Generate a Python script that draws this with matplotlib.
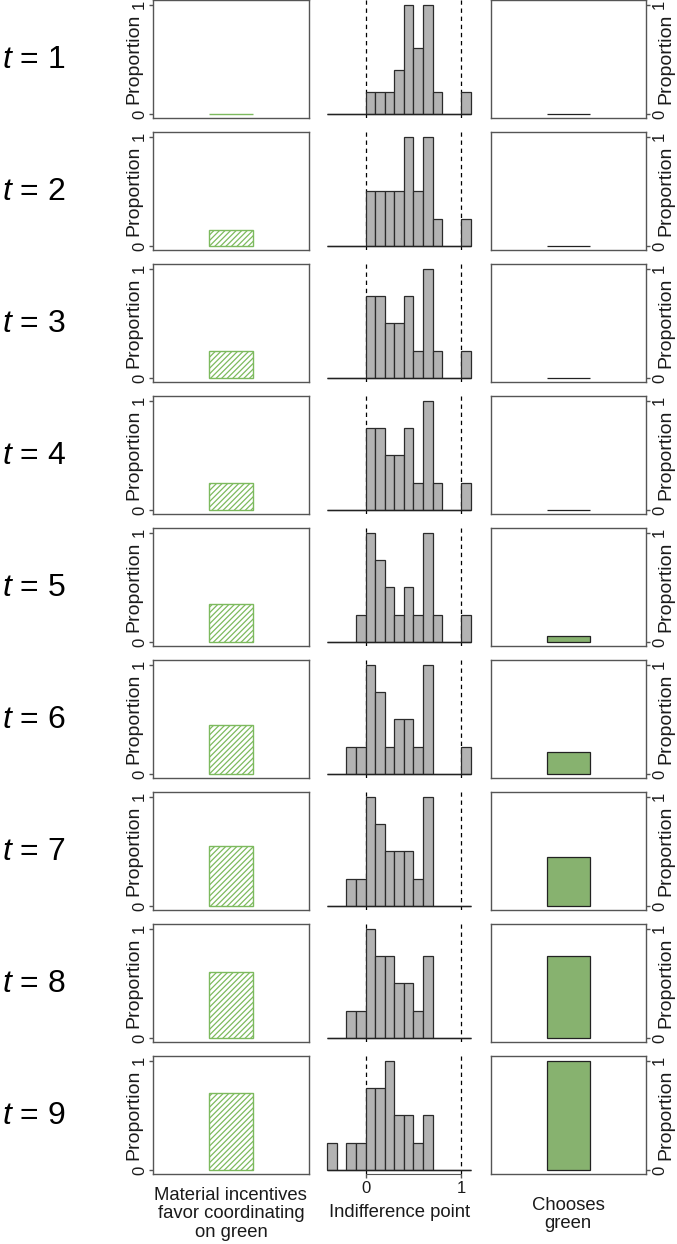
import matplotlib.pyplot as plt

plt.rcParams['font.family'] = ['Liberation Sans', 'DejaVu Sans']
plt.rcParams['mathtext.fontset'] = 'custom'
plt.rcParams['mathtext.rm'] = 'Liberation Sans'
plt.rcParams['mathtext.it'] = 'Liberation Sans:italic'
plt.rcParams['hatch.linewidth'] = 0.9

# time steps
steps = [1, 2, 3, 4, 5, 6, 7, 8, 9]

# left column: share whose material incentives favour green
incentive = [0.0, 0.15, 0.25, 0.25, 0.35, 0.45, 0.55, 0.60, 0.70]

# right column: share choosing green
chooses = [0.0, 0.0, 0.0, 0.0, 0.05, 0.20, 0.45, 0.75, 1.0]

# middle column: indifference point histograms (left bin edges, width 0.1)
bin_left = [-0.4, -0.3, -0.2, -0.1, 0.0, 0.1, 0.2, 0.3, 0.4, 0.5, 0.6, 0.7, 0.8, 0.9, 1.0]
counts = [
    [0, 0, 0, 0, 1, 1, 1, 2, 5, 3, 5, 1, 0, 0, 1],
    [0, 0, 0, 0, 2, 2, 2, 2, 4, 2, 4, 1, 0, 0, 1],
    [0, 0, 0, 0, 3, 3, 2, 2, 3, 1, 4, 1, 0, 0, 1],
    [0, 0, 0, 0, 3, 3, 2, 2, 3, 1, 4, 1, 0, 0, 1],
    [0, 0, 0, 1, 4, 3, 2, 1, 2, 1, 4, 1, 0, 0, 1],
    [0, 0, 1, 1, 4, 3, 1, 2, 2, 1, 4, 0, 0, 0, 1],
    [0, 0, 1, 1, 4, 3, 2, 2, 2, 1, 4, 0, 0, 0, 0],
    [0, 0, 1, 1, 4, 3, 3, 2, 2, 1, 3, 0, 0, 0, 0],
    [1, 0, 1, 1, 3, 3, 4, 2, 2, 1, 2, 0, 0, 0, 0],
]

W, H = 677, 1244
fig = plt.figure(figsize=(W / 100, H / 100), dpi=100)

col_x = [153.3, 321.5, 490.7]
col_w = 155.2
row_h = 118
pitch = 132

green_line = '#7dba5e'
green_fill = '#87b26f'
spine_col = '#555555'
txt_col = '#1a1a1a'


def place(x, top):
    return [x / W, 1 - (top + row_h) / H, col_w / W, row_h / H]


def style_box(ax, side):
    for s in ax.spines.values():
        s.set_color(spine_col)
        s.set_linewidth(1.0)
    ax.set_xticks([])
    ax.set_xlim(0, 1)
    ax.set_ylim(-0.04, 1.04)
    ax.set_yticks([0, 1])
    ax.set_yticklabels(['0', '1'], rotation=90, va='center', fontsize=12, color=txt_col)
    ax.tick_params(axis='y', length=3, width=1, color=spine_col, pad=1.5)
    if side == 'right':
        ax.yaxis.tick_right()
        ax.yaxis.set_label_position('right')
        ax.set_ylabel('Proportion', fontsize=14, color=txt_col)
        ax.yaxis.set_label_coords(1.075, 0.5)
    else:
        ax.set_ylabel('Proportion', fontsize=14, color=txt_col)
        ax.yaxis.set_label_coords(-0.072, 0.5)


for i, t in enumerate(steps):
    top = 0.3 + pitch * i

    # left: material incentives
    a1 = fig.add_axes(place(col_x[0], top))
    a1.bar(0.5, incentive[i], width=0.28, color='white', edgecolor=green_line,
           hatch='//////', linewidth=1.0)
    style_box(a1, 'left')

    # middle: histogram of indifference points
    a2 = fig.add_axes(place(col_x[1], top))
    peak = max(counts[i])
    heights = [c / peak for c in counts[i]]
    a2.axvline(0, color='black', lw=0.9, ls=(0, (3.5, 3)), zorder=1)
    a2.axvline(1, color='black', lw=0.9, ls=(0, (3.5, 3)), zorder=1)
    a2.bar(bin_left, heights, width=0.1, align='edge', color='#b3b3b3',
           edgecolor='#2b2b2b', linewidth=0.9, zorder=2)
    a2.hlines(0, bin_left[0], bin_left[-1] + 0.1, color='#222222', lw=1.0, zorder=3)
    a2.set_xlim(-0.46, 1.16)
    a2.set_ylim(-0.04, 1.04)
    for s in a2.spines.values():
        s.set_visible(False)
    a2.set_yticks([])
    a2.set_xticks([])

    # right: chooses green
    a3 = fig.add_axes(place(col_x[2], top))
    a3.bar(0.5, chooses[i], width=0.28, color=green_fill, edgecolor='#222222',
           linewidth=0.9)
    style_box(a3, 'right')

    fig.text(2 / W, 1 - (top + 59.5) / H, '$t$ = %d' % t, fontsize=23,
             ha='left', va='center', color='black')

    if i == len(steps) - 1:
        a1.set_xlabel('Material incentives\nfavor coordinating\non green',
                      fontsize=13.3, labelpad=9, linespacing=1.12, color=txt_col)
        a3.set_xlabel('Chooses\ngreen', fontsize=13.3, labelpad=16,
                      linespacing=1.12, color=txt_col)
        a2.spines['bottom'].set_visible(True)
        a2.spines['bottom'].set_color(spine_col)
        a2.spines['bottom'].set_bounds(0, 1)
        a2.set_xticks([0, 1])
        a2.set_xticklabels(['0', '1'], fontsize=12, color=txt_col)
        a2.tick_params(axis='x', length=3, width=1, color=spine_col, pad=1.5)
        a2.set_xlabel('Indifference point', fontsize=13.3, labelpad=6,
                      color=txt_col)

fig.savefig('out.png', dpi=100)
